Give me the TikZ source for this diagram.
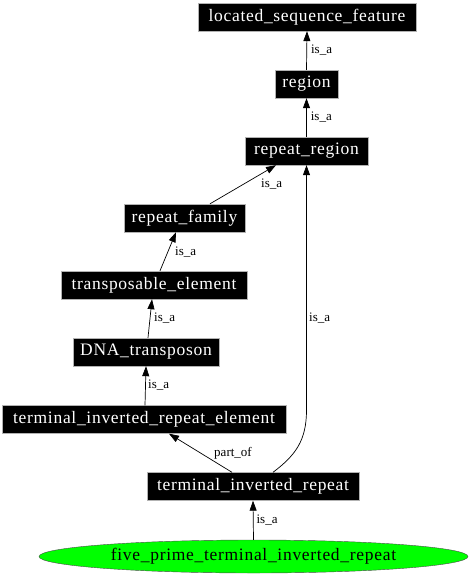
\documentclass[tikz,border=0pt]{standalone}
\usepackage{fontspec}
\setmainfont{Liberation Serif}
\newfontfamily\nodefont{Liberation Serif}[LetterSpace=4]
\usetikzlibrary{arrows.meta,calc,shapes.geometric}
\begin{document}
\begin{tikzpicture}[x=1pt,y=-1pt,
  term/.style={draw=gray!60,fill=black,text=white,font=\nodefont\fontsize{17.5}{20}\selectfont,minimum height=28pt,inner sep=0pt},
  leaf/.style={ellipse,draw=black!70,fill=green,text=black,font=\nodefont\fontsize{17.5}{20}\selectfont,minimum width=429pt,minimum height=33pt,inner sep=0pt},
  rel/.style={draw=black,line width=0.7pt,-{Triangle[length=10pt,width=7pt]}},
  lab/.style={font=\fontsize{13}{15}\selectfont,inner sep=0pt,anchor=west}]
\useasboundingbox (0,0) rectangle (471,576);
\node[term,minimum width=218pt] (lsf) at (307,17) {located\_sequence\_feature};
\node[term,minimum width=63pt] (reg) at (306.5,84) {region};
\node[term,minimum width=123pt] (rr) at (306.5,151) {repeat\_region};
\node[term,minimum width=121pt] (rf) at (184.5,218) {repeat\_family};
\node[term,minimum width=186pt] (te) at (154,285) {transposable\_element};
\node[term,minimum width=146pt] (dna) at (146,352) {DNA\_transposon};
\node[term,minimum width=284pt] (tire) at (144,419.5) {terminal\_inverted\_repeat\_element};
\node[term,minimum width=212pt] (tir) at (253,486.5) {terminal\_inverted\_repeat};
\node[leaf] (five) at (253.5,556.5) {five\_prime\_terminal\_inverted\_repeat};
\draw[rel] (reg.north) -- (lsf.south) node[lab,pos=0.5,xshift=4pt] {is\_a};
\draw[rel] (rr.north) -- (reg.south) node[lab,pos=0.5,xshift=4pt] {is\_a};
\draw[rel] ($(rf.north)+(25.5,0)$) -- ($(rr.south)+(-30.5,0)$);
\node[lab] (l1) at (261,184) {is\_a};
\draw[rel] ($(te.north)+(6,0)$) -- ($(rf.south)+(-8.5,0)$);
\node[lab] (l2) at (175,252) {is\_a};
\draw[rel] ($(dna.north)+(2,0)$) -- ($(te.south)+(-2,0)$);
\node[lab] (l3) at (154,318) {is\_a};
\draw[rel] ($(tire.north)+(1,0)$) -- ($(dna.south)+(0,0)$);
\node[lab] (l4) at (148,385) {is\_a};
\draw[rel] ($(tir.north)+(-21,0)$) -- ($(tire.south)+(25,0)$);
\node[lab,anchor=center] (l5) at (233,453) {part\_of};
\draw[rel] ($(tir.north)+(20,0)$) .. controls (296,455) and (306.5,440) .. (306.5,410) -- (rr.south);
\node[lab] (l6) at (309,318) {is\_a};
\draw[rel] (five.north) -- (tir.south) node[lab,pos=0.5,xshift=3pt] {is\_a};
\end{tikzpicture}
\end{document}
